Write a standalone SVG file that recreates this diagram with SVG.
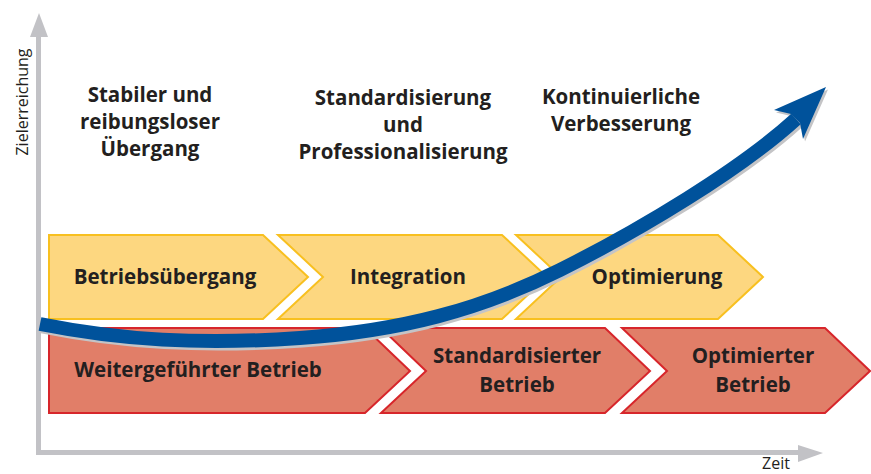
<svg xmlns="http://www.w3.org/2000/svg" width="871" height="474" viewBox="0 0 871 474">
<style>
.t{font-family:"Open Sans","Noto Sans","Liberation Sans",sans-serif;font-weight:bold;font-size:20.5px;fill:#231F20;text-anchor:middle}
.ax{font-family:"Open Sans","Noto Sans","Liberation Sans",sans-serif;font-size:16px;fill:#231F20}
.yb{fill:#FDD780;stroke:#F8C020;stroke-width:2}
.rb{fill:#E17E68;stroke:#D7262B;stroke-width:2}
.axis{stroke:#C2C2C6;stroke-width:5;fill:none}
</style>
<rect width="871" height="474" fill="#FFFFFF"/>
<g id="axes">
<line class="axis" x1="38.5" y1="30" x2="38.5" y2="452.5"/>
<polygon points="39,13 30,37 48,37" fill="#C2C2C6"/>
<line class="axis" x1="36" y1="452.5" x2="805" y2="452.5"/>
<polygon points="823,453 798,445 798,462" fill="#C2C2C6"/>
<text class="ax" transform="translate(28,102) rotate(-90)" text-anchor="middle">Zielerreichung</text>
<text class="ax" x="762" y="469" font-size="15">Zeit</text>
</g>
<g id="headings">
<text class="t" x="150" y="102">Stabiler und</text>
<text class="t" x="150" y="129">reibungsloser</text>
<text class="t" x="150" y="156">Übergang</text>
<text class="t" x="403" y="105">Standardisierung</text>
<text class="t" x="403" y="132">und</text>
<text class="t" x="403" y="159">Professionalisierung</text>
<text class="t" x="621" y="104">Kontinuierliche</text>
<text class="t" x="621" y="131">Verbesserung</text>
</g>
<g id="node-betriebsuebergang"><polygon class="yb" points="49,235 263,235 308,277 263,319 49,319"/></g>
<g id="node-integration"><polygon class="yb" points="278,235 502,235 547,277 502,319 278,319 323,277"/></g>
<g id="node-optimierung"><polygon class="yb" points="516,235 718,235 763,277 718,319 516,319 561,277"/></g>
<g id="node-weitergefuehrt"><polygon class="rb" points="49,328 365,328 410,371 365,413 49,413"/></g>
<g id="node-standardisiert"><polygon class="rb" points="381,328 605,328 650,371 605,413 381,413 426,371"/></g>
<g id="node-optimiert"><polygon class="rb" points="622,328 825,328 870,371 825,413 622,413 667,371"/></g>
<g id="connectors">
<g transform="translate(2,2.5)" fill="#C4C4C6">
<path d="M40,324 C120,340 200,345 300,338 S480,310 560,270 S740,170 796,119" fill="none" stroke="#C4C4C6" stroke-width="14"/>
<polygon points="826,87 774,110 791,114 800,123 803,139"/>
</g>
<path d="M40,324 C120,340 200,345 300,338 S480,310 560,270 S740,170 796,119" fill="none" stroke="#00529B" stroke-width="14"/>
<polygon points="826,87 774,110 791,114 800,123 803,139" fill="#00529B"/>
</g>
<g id="labels">
<text class="t" x="165" y="284">Betriebsübergang</text>
<text class="t" x="408" y="284">Integration</text>
<text class="t" x="657" y="284">Optimierung</text>
<text class="t" x="198" y="377">Weitergeführter Betrieb</text>
<text class="t" x="517" y="363">Standardisierter</text>
<text class="t" x="517" y="392">Betrieb</text>
<text class="t" x="753" y="363">Optimierter</text>
<text class="t" x="753" y="392">Betrieb</text>
</g>
</svg>
